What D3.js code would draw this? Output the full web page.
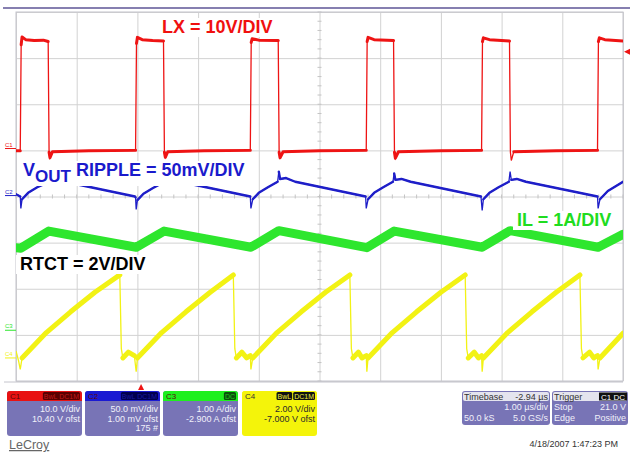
<!DOCTYPE html>
<html>
<head>
<meta charset="utf-8">
<script src="https://cdn.jsdelivr.net/npm/d3@7"></script>
<style>
html, body { margin: 0; padding: 0; background: #fff; }
svg { display: block; font-family: "Liberation Sans", Arial, sans-serif; }
</style>
</head>
<body>
<svg width="633" height="453"></svg>
<script>
// time in µs (1 µs/div, 10 div), values in channel units
const lxWave = [[0,-0.5],[0.07,-0.5],[0.085,22.5],[0.1,24.2],[0.16,23.6],[0.3,23.4],[0.45,23.5],[0.53,23.2],[0.545,-0.8],[0.56,-2.0],[0.6,-0.7],[1.2,-0.5],[1.97,-0.4],
  [1.985,22.8],[2.0,24.1],[2.08,23.6],[2.25,23.4],[2.43,23.3],[2.445,-0.8],[2.46,-1.9],[2.5,-0.7],[3.1,-0.5],[3.86,-0.4],
  [3.875,23.0],[3.89,23.8],[4.0,23.5],[4.32,23.4],[4.335,-0.8],[4.35,-2.0],[4.4,-0.7],[5.0,-0.5],[5.77,-0.4],
  [5.785,23.2],[5.8,24.1],[5.9,23.6],[6.22,23.4],[6.235,-0.8],[6.25,-2.1],[6.3,-0.7],[7.0,-0.5],[7.67,-0.4],
  [7.685,23.2],[7.7,24.0],[7.8,23.6],[8.13,23.3],[8.145,-0.8],[8.16,-2.6],[8.2,-0.7],[8.9,-0.5],[9.58,-0.4],
  [9.595,23.2],[9.61,24.0],[9.7,23.6],[10,23.3]];

const voutWave = [[0,1.5],[0.07,-1],[0.08,-14],[0.1,-4],[0.2,3],[0.35,9],[0.52,14],[0.54,22],[0.56,16],[0.7,17],[0.8,15],[1.96,-1],
  [1.97,-2],[1.98,-15],[2.0,-5],[2.1,2],[2.25,8],[2.42,14],[2.44,22],[2.46,16],[2.6,17],[2.7,15],[3.86,-1],
  [3.87,-14],[3.9,-4],[4.0,3],[4.15,9],[4.31,15],[4.33,26],[4.35,18],[4.45,19],[4.6,15],[5.76,-1],
  [5.77,-14],[5.8,-4],[5.9,3],[6.05,9],[6.21,15],[6.23,24],[6.25,17],[6.35,18],[6.5,15],[7.66,-1],
  [7.68,-16],[7.7,-4],[7.8,3],[7.95,9],[8.12,15],[8.14,26],[8.16,17],[8.25,18],[8.4,15],[9.58,-1],
  [9.59,-14],[9.62,-4],[9.75,5],[9.9,11],[10,15]];

const ilWave = [[0,1.79],[0.08,1.78],[0.54,2.15],[1.98,1.80],[2.44,2.15],[3.87,1.80],[4.33,2.16],
  [5.78,1.79],[6.23,2.15],[7.68,1.80],[8.14,2.16],[9.59,1.80],[10,2.08]];

const rtctWave = [[0,0.3],[0.04,-0.1],[0.07,-0.5],[0.1,0.0],[0.5,1.1],[0.9,2.0],[1.3,2.85],[1.71,3.6],[1.735,0.4],[1.76,0.0],[1.85,0.25],[1.95,0.1],
  [1.98,-0.6],[2.0,0.0],[2.4,1.1],[2.8,2.0],[3.2,2.85],[3.58,3.6],[3.605,0.4],[3.63,0.0],[3.72,0.25],[3.8,0.0],[3.86,0.1],
  [3.87,-0.5],[3.9,0.0],[4.3,1.1],[4.7,2.0],[5.1,2.85],[5.5,3.6],[5.525,0.4],[5.55,0.0],[5.64,0.25],[5.7,0.0],[5.77,0.1],
  [5.78,-0.6],[5.8,0.0],[6.2,1.1],[6.6,2.0],[7.0,2.85],[7.4,3.6],[7.425,0.4],[7.45,0.0],[7.55,0.25],[7.62,0.0],[7.67,0.1],
  [7.68,-0.6],[7.7,0.0],[8.1,1.1],[8.5,2.0],[8.9,2.85],[9.29,3.6],[9.315,0.4],[9.34,0.0],[9.45,0.25],[9.52,0.0],[9.58,0.1],
  [9.59,-0.5],[9.62,0.0],[10,1.07]];

const channelNames = ["C1", "C2", "C3", "C4"];
const perDiv = [10, 50, 1, 2];
const offsets = [10.4, 1.0, -2.9, -7.0];
const divLabels = ["10.0 V/div", "50.0 mV/div", "1.00 A/div", "2.00 V/div"];
const ofstLabels = ["10.40 V ofst", "1.00 mV ofst", "-2.900 A ofst", "-7.000 V ofst"];
const extraLabels = ["", "175 #", "", ""];
const badges = [["BwL DC1M"], ["BwL DC1M"], ["DC"], ["BwL", "DC1M"]];
const traceLabels = ["LX = 10V/DIV", "RIPPLE = 50mV/DIV", "IL = 1A/DIV", "RTCT = 2V/DIV"];

const timebaseDelay = -2.94;
const triggerLevel = 21.0;
const timebaseLines = [["Timebase", "-2.94 µs"], ["", "1.00 µs/div"], ["50.0 kS", "5.0 GS/s"]];
const triggerLines = [["Trigger", ""], ["Stop", "21.0 V"], ["Edge", "Positive"]];
const dateStamp = "4/18/2007 1:47:23 PM";

const svg = d3.select("svg");
const plot = {left: 16, right: 623, top: 12, bottom: 381};
const innerW = plot.right - plot.left, innerH = plot.bottom - plot.top;

const colors = ["#ee1414", "#1e1ec8", "#2ee62e", "#f2f214"];
const thick = [3, 2.4, 9, 5];

const x = d3.scaleLinear().domain([0, 10]).range([plot.left, plot.right]);
const divScale = d3.scaleLinear().domain([-4, 4]).range([plot.bottom, plot.top]);
const chScale = i => d3.scaleLinear()
  .domain([-4 * perDiv[i] - offsets[i], 4 * perDiv[i] - offsets[i]])
  .range([plot.bottom, plot.top]);

svg.append("defs").append("clipPath").attr("id", "clip")
  .append("rect").attr("x", plot.left).attr("y", plot.top).attr("width", innerW).attr("height", innerH);

// top bar
svg.append("line").attr("x1", 3).attr("x2", 630).attr("y1", 8).attr("y2", 8)
  .attr("stroke", "#5e5596").attr("stroke-width", 1.5);

// grid
const g = svg.append("g");
g.append("g").attr("transform", "translate(0," + plot.bottom + ")")
  .call(d3.axisBottom(x).ticks(10).tickSize(-innerH).tickFormat(""))
  .call(s => s.select(".domain").remove())
  .selectAll("line").attr("stroke", "#d2d2d2");
g.append("g").attr("transform", "translate(" + plot.left + ",0)")
  .call(d3.axisLeft(divScale).ticks(8).tickSize(-innerW).tickFormat(""))
  .call(s => s.select(".domain").remove())
  .selectAll("line").attr("stroke", "#d2d2d2");

// minor ticks on the centre cross
g.selectAll(".mx").data(d3.range(0, 10.01, 0.2)).enter().append("line")
  .attr("x1", d => x(d)).attr("x2", d => x(d))
  .attr("y1", divScale(0) - 2).attr("y2", divScale(0) + 2).attr("stroke", "#c4c4c4");
g.selectAll(".my").data(d3.range(-4, 4.01, 0.2)).enter().append("line")
  .attr("y1", d => divScale(d)).attr("y2", d => divScale(d))
  .attr("x1", x(5) - 2).attr("x2", x(5) + 2).attr("stroke", "#c4c4c4");

svg.append("rect").attr("x", plot.left).attr("y", plot.top)
  .attr("width", innerW).attr("height", innerH)
  .attr("fill", "none").attr("stroke", "#c4c4cc");
svg.append("line").attr("x1", 4).attr("x2", plot.right).attr("y1", plot.bottom + 1).attr("y2", plot.bottom + 1)
  .attr("stroke", "#c4c4cc");

// traces: thin full path + thick band on the slow parts
const waves = [lxWave, voutWave, ilWave, rtctWave];
waves.forEach((w, i) => {
  const y = chScale(i);
  const pts = w.map(d => [x(d[0]), y(d[1])]);
  const line = d3.line();
  const runs = [];
  let cur = [pts[0]];
  for (let k = 1; k < pts.length; k++) {
    const dx = Math.abs(pts[k][0] - pts[k - 1][0]);
    const dy = Math.abs(pts[k][1] - pts[k - 1][1]);
    if (dy > 8 && dy > 3 * dx) {
      if (cur.length > 1) runs.push(cur);
      cur = [pts[k]];
    } else cur.push(pts[k]);
  }
  if (cur.length > 1) runs.push(cur);
  const tg = svg.append("g").attr("clip-path", "url(#clip)");
  tg.append("path").attr("d", line(pts)).attr("fill", "none")
    .attr("stroke", colors[i]).attr("stroke-width", 1.3);
  tg.selectAll(".run").data(runs).enter().append("path")
    .attr("d", line).attr("fill", "none")
    .attr("stroke", colors[i]).attr("stroke-width", thick[i])
    .attr("stroke-linejoin", "round").attr("stroke-linecap", "round");
  // channel ground marker at the left edge
  const y0 = y(0);
  svg.append("line").attr("x1", 5).attr("x2", plot.left).attr("y1", y0).attr("y2", y0)
    .attr("stroke", colors[i]).attr("stroke-width", 1);
  svg.append("text").attr("x", 5).attr("y", y0 - 2).text(channelNames[i])
    .attr("font-size", 6).attr("fill", colors[i]);
});

// trigger markers
const trigY = chScale(0)(triggerLevel);
svg.append("path").attr("d", d3.line()([[plot.right + 1, trigY], [plot.right + 7, trigY - 3], [plot.right + 7, trigY + 3]]))
  .attr("fill", colors[0]);
const trigX = x(5 + timebaseDelay);
svg.append("path").attr("d", d3.line()([[trigX, plot.bottom + 3], [trigX - 3, plot.bottom + 9], [trigX + 3, plot.bottom + 9]]))
  .attr("fill", colors[0]);

// annotation labels on white boxes
function boxed(sel) {
  const b = sel.node().getBBox();
  svg.insert("rect", () => sel.node())
    .attr("x", b.x - 4).attr("y", b.y + 1).attr("width", b.width + 8).attr("height", b.height - 1)
    .attr("fill", "#fff");
}
const lx = svg.append("text").attr("x", 162).attr("y", 33).attr("fill", "#f01010")
  .attr("font-size", 18).attr("font-weight", "bold").text(traceLabels[0]);
boxed(lx);
const vo = svg.append("text").attr("x", 23).attr("y", 176).attr("fill", "#1a1acc")
  .attr("font-size", 18).attr("font-weight", "bold");
vo.append("tspan").text("V");
vo.append("tspan").attr("dy", 6).attr("font-size", 17).text("OUT");
vo.append("tspan").attr("dy", -6).text(" " + traceLabels[1]);
boxed(vo);
const il = svg.append("text").attr("x", 517).attr("y", 226).attr("fill", "#20dc20")
  .attr("font-size", 18).attr("font-weight", "bold").text(traceLabels[2]);
boxed(il);
const rt = svg.append("text").attr("x", 20).attr("y", 270).attr("fill", "#000")
  .attr("font-size", 18).attr("font-weight", "bold").text(traceLabels[3]);
boxed(rt);

// channel descriptor boxes
const boxX = [7, 85, 163, 242];
const headFill = ["#e81212", "#1a1ad2", "#1ef01e", "#f4f40a"];
const badgeFill = ["#5a0000", "#00004e", "#0b4f0b", "#111"];
const badgeText = ["#c01818", "#1818a0", "#1ec81e", "#f0f040"];
const bw = 75, by = 391, bh = 45;
channelNames.forEach((name, i) => {
  const bx = boxX[i];
  const cg = svg.append("g");
  const body = i === 3 ? "#f4f40a" : "#7874b6";
  const txt = i === 3 ? "#2a2a2a" : "#f0f0fa";
  cg.append("rect").attr("x", bx).attr("y", by).attr("width", bw).attr("height", bh)
    .attr("rx", 3).attr("fill", body);
  cg.append("path").attr("d", "M" + bx + "," + (by + 10) + "V" + (by + 3) + "Q" + bx + "," + by + " " + (bx + 3) + "," + by +
      "H" + (bx + bw - 3) + "Q" + (bx + bw) + "," + by + " " + (bx + bw) + "," + (by + 3) + "V" + (by + 10) + "Z")
    .attr("fill", headFill[i]);
  cg.append("text").attr("x", bx + 3).attr("y", by + 8).attr("font-size", 8)
    .attr("fill", i === 3 ? "#333" : "#5a0a0a").text(name);
  let right = bx + bw - 2;
  badges[i].slice().reverse().forEach(b => {
    const t = cg.append("text").attr("y", by + 8).attr("font-size", 7).attr("text-anchor", "end")
      .attr("x", right - 1).attr("fill", badgeText[i]).text(b);
    const w = t.node().getComputedTextLength() + 2;
    cg.insert("rect", () => t.node()).attr("x", right - w).attr("y", by + 1).attr("width", w).attr("height", 8)
      .attr("rx", 1.5).attr("fill", badgeFill[i]);
    right -= w + 1;
  });
  [divLabels[i], ofstLabels[i], extraLabels[i]].forEach((s, k) => {
    cg.append("text").attr("x", bx + bw - 2).attr("y", by + 21 + k * 9.5)
      .attr("text-anchor", "end").attr("font-size", 9).attr("fill", txt).text(s);
  });
});

// timebase / trigger boxes
function infoBox(bx, w, lines, badge) {
  const cg = svg.append("g");
  cg.append("rect").attr("x", bx).attr("y", by).attr("width", w).attr("height", 34)
    .attr("rx", 3).attr("fill", "#7874b6");
  cg.append("rect").attr("x", bx + 1).attr("y", by + 1).attr("width", w - 2).attr("height", 9)
    .attr("rx", 2).attr("fill", "#e4e4ee");
  lines.forEach((l, k) => {
    const col = k === 0 ? "#333" : "#f0f0fa";
    cg.append("text").attr("x", bx + 2).attr("y", by + 8.5 + k * 10.5).attr("font-size", 9)
      .attr("fill", col).text(l[0]);
    cg.append("text").attr("x", bx + w - 2).attr("y", by + 8.5 + k * 10.5).attr("font-size", 9)
      .attr("text-anchor", "end").attr("fill", col).text(l[1]);
  });
  if (badge) {
    const t = cg.append("text").attr("x", bx + w - 3).attr("y", by + 8.5).attr("font-size", 8)
      .attr("text-anchor", "end").attr("fill", "#fff").text(badge);
    const tw = t.node().getComputedTextLength() + 4;
    cg.insert("rect", () => t.node()).attr("x", bx + w - 1 - tw).attr("y", by + 1.5)
      .attr("width", tw).attr("height", 8).attr("fill", "#111");
  }
}
infoBox(462, 88, timebaseLines, null);
infoBox(552, 76, triggerLines, "C1 DC");

svg.append("text").attr("x", 618).attr("y", 447).attr("text-anchor", "end")
  .attr("font-size", 9).attr("fill", "#333").text(dateStamp);
svg.append("text").attr("x", 9).attr("y", 449).attr("font-size", 12.5)
  .attr("fill", "#666").attr("text-decoration", "underline").text("LeCroy");
</script>
</body>
</html>
